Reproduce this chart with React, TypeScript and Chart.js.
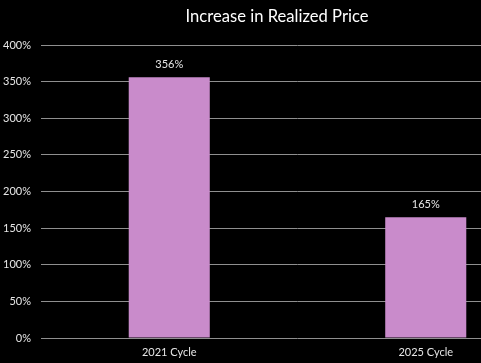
import React, { useEffect, useRef } from "react";
import { Chart, registerables } from "chart.js";

Chart.register(...registerables);

const categories = ["2021 Cycle", "2025 Cycle"];
const increaseValues = [356, 165];
const yTicks = [0, 50, 100, 150, 200, 250, 300, 350, 400];
const titleText = "Increase in Realized Price";

const FONT = "Lato, 'Open Sans', sans-serif";

const valueLabels = {
  id: "valueLabels",
  afterDatasetsDraw(chart: any) {
    const ctx = chart.ctx;
    const meta = chart.getDatasetMeta(0);
    ctx.save();
    ctx.fillStyle = "#e6e6e6";
    ctx.font = `11px ${FONT}`;
    ctx.textAlign = "center";
    ctx.textBaseline = "middle";
    meta.data.forEach((bar: any, i: number) => {
      ctx.fillText(`${increaseValues[i]}%`, bar.x, bar.y - 13);
    });
    ctx.restore();
  },
};

export default function App() {
  const ref = useRef<HTMLCanvasElement | null>(null);
  useEffect(() => {
    if (!ref.current) return;
    const chart = new Chart(ref.current, {
      type: "bar",
      data: {
        labels: categories,
        datasets: [
          {
            data: increaseValues,
            backgroundColor: "#c98bcb",
            borderWidth: 0,
            barPercentage: 1,
            categoryPercentage: 0.316,
          },
        ],
      },
      options: {
        animation: false,
        responsive: false,
        devicePixelRatio: 1,
        layout: { padding: { left: 0, right: 9, top: 0, bottom: 0 } },
        plugins: {
          legend: { display: false },
          tooltip: { enabled: false },
          title: {
            display: true,
            text: titleText,
            color: "#ffffff",
            font: { family: FONT, size: 16.6, weight: "normal" },
            padding: { top: 7, bottom: 18.1 },
          },
        },
        scales: {
          x: {
            grid: { display: false, drawTicks: false },
            border: { display: false },
            ticks: {
              color: "#e6e6e6",
              font: { family: FONT, size: 11 },
              padding: 8,
            },
            afterFit: (s: any) => {
              s.height = 25;
            },
          },
          y: {
            min: 0,
            max: 400,
            afterBuildTicks: (s: any) => {
              s.ticks = yTicks.map((v) => ({ value: v }));
            },
            grid: { color: "#8f8f8f", lineWidth: 1, drawTicks: false },
            border: { display: false },
            ticks: {
              color: "#e6e6e6",
              font: { family: FONT, size: 11 },
              padding: 10,
              callback: (v: any) => `${v}%`,
            },
            afterFit: (s: any) => {
              s.width = 41;
            },
          },
        },
      },
      plugins: [valueLabels],
    });
    return () => chart.destroy();
  }, []);
  return (
    <div
      style={{
        position: "fixed",
        left: 0,
        top: 0,
        width: 481,
        height: 363,
        overflow: "hidden",
        background: "#000",
      }}
    >
      <canvas ref={ref} width={563} height={363} style={{ display: "block" }} />
    </div>
  );
}
